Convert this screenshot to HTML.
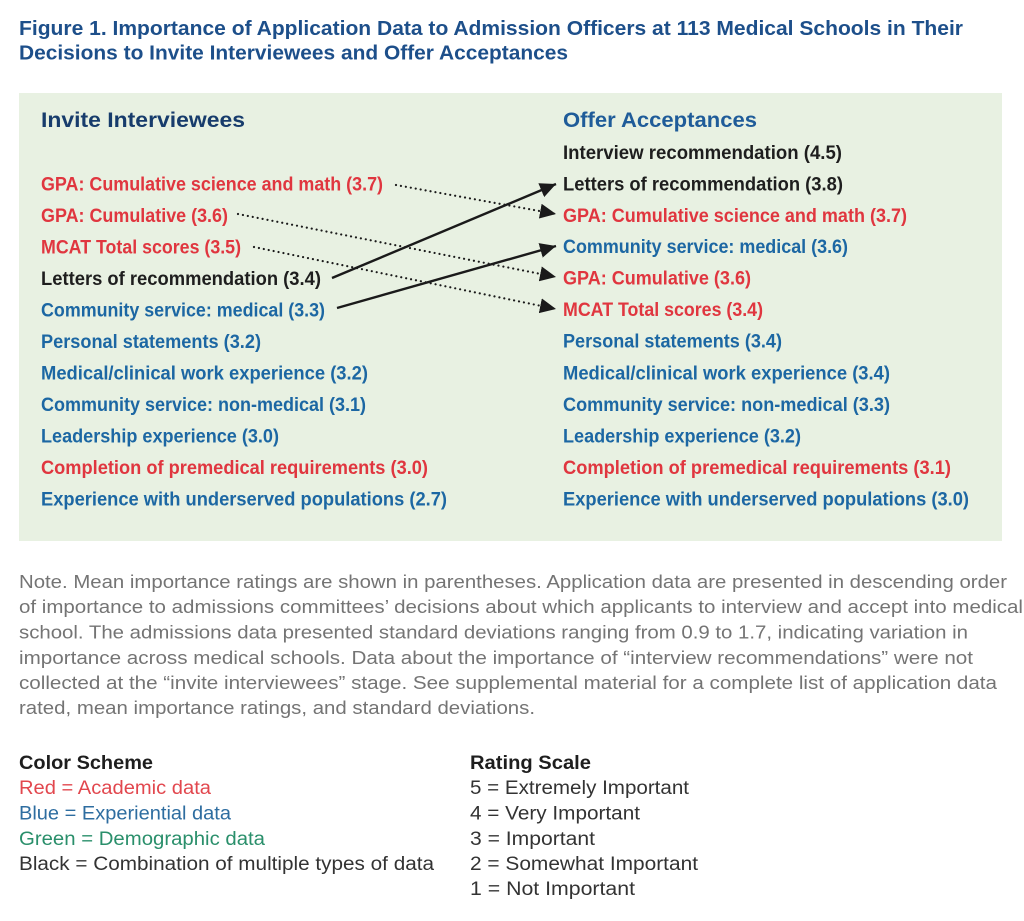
<!DOCTYPE html>
<html><head><meta charset="utf-8"><style>
html,body{margin:0;padding:0;background:#fff;}
svg{display:block;}
.t{font-family:"Liberation Sans",sans-serif;}
</style></head><body>
<svg width="1024" height="921" viewBox="0 0 1024 921" xmlns="http://www.w3.org/2000/svg">
<defs>
<marker id="ah" markerUnits="userSpaceOnUse" markerWidth="17" markerHeight="16" refX="16" refY="7.5" orient="auto">
<path d="M0,0 L16,7.5 L0,15 Z" fill="#1a1a1a"/>
</marker>
</defs>
<rect width="1024" height="921" fill="#fff"/>
<g class="t" font-weight="bold" fill="#1d4f8a" font-size="20">
<text x="19" y="35" textLength="944" lengthAdjust="spacingAndGlyphs">Figure 1. Importance of Application Data to Admission Officers at 113 Medical Schools in Their</text>
<text x="19" y="59.5" textLength="549" lengthAdjust="spacingAndGlyphs">Decisions to Invite Interviewees and Offer Acceptances</text>
</g>
<rect x="19" y="93" width="983" height="448" fill="#e8f1e2"/>
<g class="t" font-weight="bold" font-size="21.5">
<text x="41" y="127" fill="#173c6c" textLength="204" lengthAdjust="spacingAndGlyphs">Invite Interviewees</text>
<text x="563" y="127" fill="#1f5c99" textLength="194" lengthAdjust="spacingAndGlyphs">Offer Acceptances</text>
</g>
<g class="t" font-weight="bold" font-size="19">
<text x="41" y="190.5" fill="#e0363f" textLength="342" lengthAdjust="spacingAndGlyphs">GPA: Cumulative science and math (3.7)</text>
<text x="41" y="222" fill="#e0363f" textLength="187" lengthAdjust="spacingAndGlyphs">GPA: Cumulative (3.6)</text>
<text x="41" y="253.5" fill="#e0363f" textLength="200" lengthAdjust="spacingAndGlyphs">MCAT Total scores (3.5)</text>
<text x="41" y="285" fill="#1e1e1e" textLength="280" lengthAdjust="spacingAndGlyphs">Letters of recommendation (3.4)</text>
<text x="41" y="316.5" fill="#1c67a3" textLength="284" lengthAdjust="spacingAndGlyphs">Community service: medical (3.3)</text>
<text x="41" y="348" fill="#1c67a3" textLength="220" lengthAdjust="spacingAndGlyphs">Personal statements (3.2)</text>
<text x="41" y="379.5" fill="#1c67a3" textLength="327" lengthAdjust="spacingAndGlyphs">Medical/clinical work experience (3.2)</text>
<text x="41" y="411" fill="#1c67a3" textLength="325" lengthAdjust="spacingAndGlyphs">Community service: non-medical (3.1)</text>
<text x="41" y="442.5" fill="#1c67a3" textLength="238" lengthAdjust="spacingAndGlyphs">Leadership experience (3.0)</text>
<text x="41" y="474" fill="#e0363f" textLength="387" lengthAdjust="spacingAndGlyphs">Completion of premedical requirements (3.0)</text>
<text x="41" y="505.5" fill="#1c67a3" textLength="406" lengthAdjust="spacingAndGlyphs">Experience with underserved populations (2.7)</text>
</g>
<g class="t" font-weight="bold" font-size="19">
<text x="563" y="159" fill="#1e1e1e" textLength="279" lengthAdjust="spacingAndGlyphs">Interview recommendation (4.5)</text>
<text x="563" y="190.5" fill="#1e1e1e" textLength="280" lengthAdjust="spacingAndGlyphs">Letters of recommendation (3.8)</text>
<text x="563" y="222" fill="#e0363f" textLength="344" lengthAdjust="spacingAndGlyphs">GPA: Cumulative science and math (3.7)</text>
<text x="563" y="253" fill="#1c67a3" textLength="285" lengthAdjust="spacingAndGlyphs">Community service: medical (3.6)</text>
<text x="563" y="284.5" fill="#e0363f" textLength="188" lengthAdjust="spacingAndGlyphs">GPA: Cumulative (3.6)</text>
<text x="563" y="316" fill="#e0363f" textLength="200" lengthAdjust="spacingAndGlyphs">MCAT Total scores (3.4)</text>
<text x="563" y="347.5" fill="#1c67a3" textLength="219" lengthAdjust="spacingAndGlyphs">Personal statements (3.4)</text>
<text x="563" y="379.5" fill="#1c67a3" textLength="327" lengthAdjust="spacingAndGlyphs">Medical/clinical work experience (3.4)</text>
<text x="563" y="411" fill="#1c67a3" textLength="327" lengthAdjust="spacingAndGlyphs">Community service: non-medical (3.3)</text>
<text x="563" y="442.5" fill="#1c67a3" textLength="238" lengthAdjust="spacingAndGlyphs">Leadership experience (3.2)</text>
<text x="563" y="474" fill="#e0363f" textLength="388" lengthAdjust="spacingAndGlyphs">Completion of premedical requirements (3.1)</text>
<text x="563" y="505.5" fill="#1c67a3" textLength="406" lengthAdjust="spacingAndGlyphs">Experience with underserved populations (3.0)</text>
</g>
<g fill="none" stroke="#1a1a1a">
<line x1="396" y1="185" x2="556" y2="214" stroke-width="2.2" stroke-dasharray="0.01 5" stroke-linecap="round" marker-end="url(#ah)"/>
<line x1="238" y1="214" x2="556" y2="277" stroke-width="2.2" stroke-dasharray="0.01 5" stroke-linecap="round" marker-end="url(#ah)"/>
<line x1="254" y1="247" x2="556" y2="309" stroke-width="2.2" stroke-dasharray="0.01 5" stroke-linecap="round" marker-end="url(#ah)"/>
<line x1="332" y1="278" x2="556" y2="184" stroke-width="2.4" marker-end="url(#ah)"/>
<line x1="337" y1="308" x2="556" y2="246" stroke-width="2.4" marker-end="url(#ah)"/>
</g>
<g class="t" font-size="18" fill="#747474">
<text x="19" y="588" textLength="988" lengthAdjust="spacingAndGlyphs">Note. Mean importance ratings are shown in parentheses. Application data are presented in descending order</text>
<text x="19" y="613" textLength="1004" lengthAdjust="spacingAndGlyphs">of importance to admissions committees’ decisions about which applicants to interview and accept into medical</text>
<text x="19" y="638.5" textLength="949" lengthAdjust="spacingAndGlyphs">school. The admissions data presented standard deviations ranging from 0.9 to 1.7, indicating variation in</text>
<text x="19" y="664" textLength="954" lengthAdjust="spacingAndGlyphs">importance across medical schools. Data about the importance of “interview recommendations” were not</text>
<text x="19" y="689" textLength="978" lengthAdjust="spacingAndGlyphs">collected at the “invite interviewees” stage. See supplemental material for a complete list of application data</text>
<text x="19" y="714" textLength="516" lengthAdjust="spacingAndGlyphs">rated, mean importance ratings, and standard deviations.</text>
</g>
<g class="t" font-size="19">
<text x="19" y="769" font-weight="bold" fill="#1e1e1e" textLength="134" lengthAdjust="spacingAndGlyphs">Color Scheme</text>
<text x="19" y="794" fill="#e2474e" textLength="192" lengthAdjust="spacingAndGlyphs">Red = Academic data</text>
<text x="19" y="819.5" fill="#2e6da0" textLength="212" lengthAdjust="spacingAndGlyphs">Blue = Experiential data</text>
<text x="19" y="845" fill="#2a8f6b" textLength="246" lengthAdjust="spacingAndGlyphs">Green = Demographic data</text>
<text x="19" y="870" fill="#333" textLength="415" lengthAdjust="spacingAndGlyphs">Black = Combination of multiple types of data</text>
<text x="470" y="769" font-weight="bold" fill="#1e1e1e" textLength="121" lengthAdjust="spacingAndGlyphs">Rating Scale</text>
<text x="470" y="794" fill="#333" textLength="219" lengthAdjust="spacingAndGlyphs">5 = Extremely Important</text>
<text x="470" y="819.5" fill="#333" textLength="170" lengthAdjust="spacingAndGlyphs">4 = Very Important</text>
<text x="470" y="845" fill="#333" textLength="125" lengthAdjust="spacingAndGlyphs">3 = Important</text>
<text x="470" y="870" fill="#333" textLength="228" lengthAdjust="spacingAndGlyphs">2 = Somewhat Important</text>
<text x="470" y="895" fill="#333" textLength="165" lengthAdjust="spacingAndGlyphs">1 = Not Important</text>
</g>
</svg>
</body></html>
